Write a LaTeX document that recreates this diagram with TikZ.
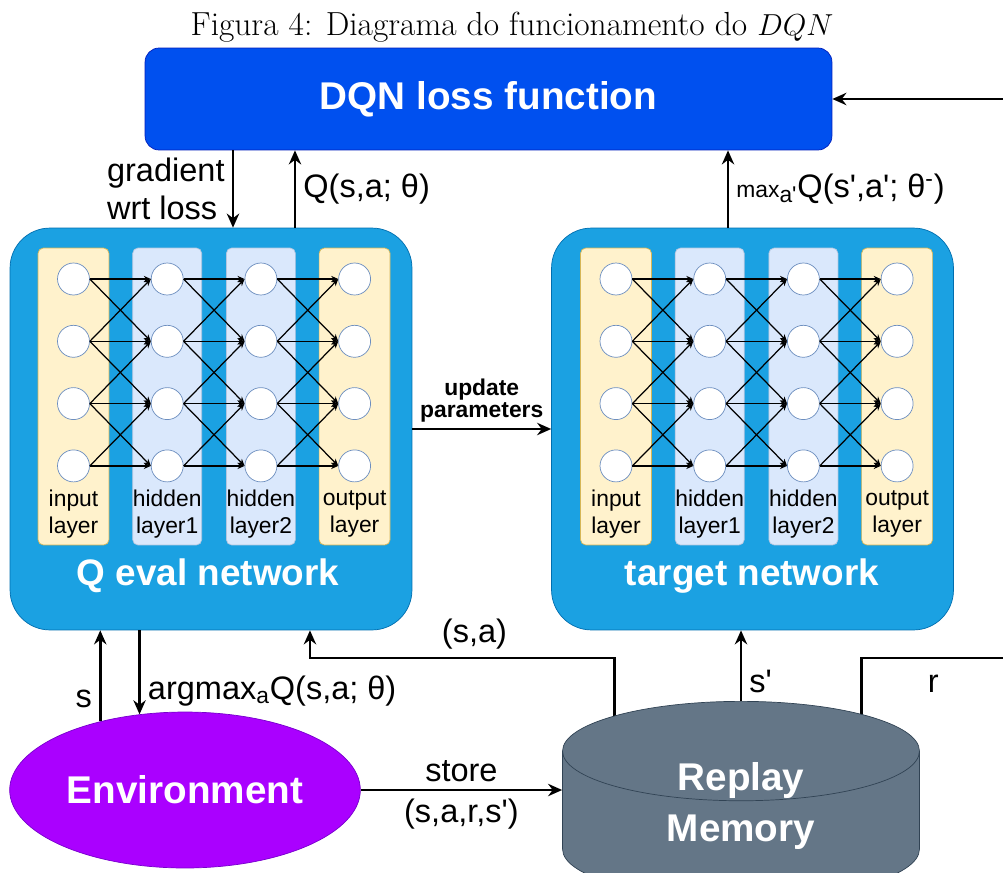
\documentclass[tikz,border=0pt]{standalone}
\usepackage{fontspec}
\newfontfamily\arial{Liberation Sans}
\usetikzlibrary{positioning,arrows.meta,shapes.geometric,backgrounds}

\definecolor{lossblue}{HTML}{0050EF}
\definecolor{lossline}{HTML}{001DBC}
\definecolor{netblue}{HTML}{1BA1E2}
\definecolor{netline}{HTML}{006EAF}
\definecolor{envpurple}{HTML}{AA00FF}
\definecolor{envline}{HTML}{7700CC}
\definecolor{memgray}{HTML}{647687}
\definecolor{memline}{HTML}{314354}
\definecolor{ioyellow}{HTML}{FFF2CC}
\definecolor{ioline}{HTML}{D6B656}
\definecolor{hidblue}{HTML}{DAE8FC}
\definecolor{hidline}{HTML}{6C8EBF}
\newcommand{\apo}{\textquotesingle}

\begin{document}
\begin{tikzpicture}[x=0.02cm, y=-0.02cm,
    font=\arial\fontsize{18.5}{22}\selectfont,
    title/.style={text=white, font=\arial\bfseries\fontsize{22}{27}\selectfont, align=center},
    lossbox/.style={draw=lossline, fill=lossblue, rounded corners=0.28cm,
                    minimum width=13.74cm, minimum height=2.04cm},
    netbox/.style={draw=netline, fill=netblue, rounded corners=0.8cm,
                   minimum width=8.04cm, minimum height=8.04cm},
    iocol/.style={draw=ioline, fill=ioyellow, rounded corners=3pt,
                  minimum width=1.42cm, minimum height=5.94cm},
    hidcol/.style={draw=hidline!50, fill=hidblue, rounded corners=3pt,
                   minimum width=1.38cm, minimum height=5.94cm},
    neuron/.style={circle, draw=hidline, fill=white, minimum size=0.64cm, inner sep=0pt},
    layerlbl/.style={font=\arial\fontsize{13}{15.5}\selectfont, align=center},
    envell/.style={ellipse, draw=envline, fill=envpurple, minimum width=6.8cm, minimum height=3.12cm},
    memdb/.style={cylinder, shape border rotate=90, shape aspect=0.89, text width=2cm,
                  draw=memline, fill=memgray, minimum width=7.14cm, minimum height=3.95cm},
    flow/.style={-{Stealth[length=8pt,width=7pt]}, line width=1.6pt},
    wire/.style={-{Stealth[length=4pt,width=3.5pt]}, line width=0.7pt},
    elbl/.style={inner sep=4pt}]

    \useasboundingbox (0,0) rectangle (1003,872);

    \node[font=\rmfamily\fontsize{19}{22}\selectfont] (caption) at (512,27)
        {Figura 4: Diagrama do funcionamento do $DQN$};

    \node[lossbox, title] (loss) at (488.5,99) {DQN loss function};
    \node[netbox] (qeval)  at (211,429)   {};
    \node[netbox] (target) at (752.5,429) {};

    % layers of both networks
    \foreach \net/\bx in {q/73.5, t/616}{
      \foreach \l/\kind/\txt in {1/iocol/{input\\layer}, 2/hidcol/{hidden\\layer1},
                                 3/hidcol/{hidden\\layer2}, 4/iocol/{output\\layer}}{
        \node[\kind] (\net-col\l) at ({\bx+(\l-1)*93.7},396.5) {};
        \node[layerlbl] (\net-lbl\l) at ({\bx+(\l-1)*93.7},514) {\txt};
        \foreach \n in {1,...,4}
          \node[neuron] (\net-\l-\n) at ({\bx+(\l-1)*93.7},{279+(\n-1)*62.3}) {};
      }
      \foreach \l [evaluate=\l as \m using int(\l+1)] in {1,2,3}
        \foreach \i/\j in {1/1,1/2,2/1,2/2,2/3,3/2,3/3,3/4,4/3,4/4}
          \draw[wire] (\net-\l-\i.east) -- (\net-\m-\j.west);
    }

    \node[title, font=\arial\bfseries\fontsize{21}{25}\selectfont] (qtitle) at (208,576) {Q eval network};
    \node[title, font=\arial\bfseries\fontsize{21}{25}\selectfont] (ttitle) at (752,576) {target network};

    \node[envell, title] (env) at (185,790) {Environment};
    \node[memdb, anchor=north] (replay) at (741,701) {};
    \node[title, font=\arial\bfseries\fontsize{22}{29}\selectfont] (memtext) at (741,806) {Replay\\Memory};

    \draw[flow] ([xshift=0.44cm]qeval.north |- loss.south) -- node[elbl,left,align=left]{gradient\\wrt loss} ([xshift=0.44cm]qeval.north);
    \draw[flow] ([xshift=1.68cm]qeval.north) -- node[elbl,right]{Q(s,a; θ)} ([xshift=1.68cm]qeval.north |- loss.south);
    \draw[flow] ([xshift=-0.49cm]target.north) -- node[elbl,right]{{\fontsize{13}{15}\selectfont max}\textsubscript{a\apo}Q(s\apo,a\apo; θ\textsuperscript{-})} ([xshift=-0.49cm]target.north |- loss.south);
    \draw[flow] (qeval.east) -- node[above, align=center, inner sep=3pt, font=\arial\bfseries\fontsize{13}{12.5}\selectfont]{update\\parameters} (target.west);

    \draw[flow] (env.141.5) -- node[elbl,left,pos=0.25]{s} (env.141.5 |- qeval.south);
    \draw[flow] (env.121 |- qeval.south) -- node[elbl,right,pos=0.72]{argmax\textsubscript{a}Q(s,a; θ)} (env.121);
    \draw[flow] (env.east) -- node[elbl,above]{store} node[elbl,below]{(s,a,r,s\apo)} (env.east -| replay.west);
    \draw[flow] (replay.north) -- node[elbl,right,pos=0.27]{s\apo} (replay.north |- target.south);

    \begin{scope}[on background layer]
      \draw[flow] ([xshift=-2.53cm]replay.center) -- ([xshift=-2.53cm]replay.center |- 0,658)
          -| node[elbl,pos=0.23,above]{(s,a)} ([xshift=1.98cm]qeval.south);
      \draw[flow] ([xshift=2.41cm]replay.center) |- node[elbl,pos=0.7,below=5pt]{r}
          ([xshift=6cm]replay.center |- 0,658) |- (loss.east);
    \end{scope}
\end{tikzpicture}
\end{document}
